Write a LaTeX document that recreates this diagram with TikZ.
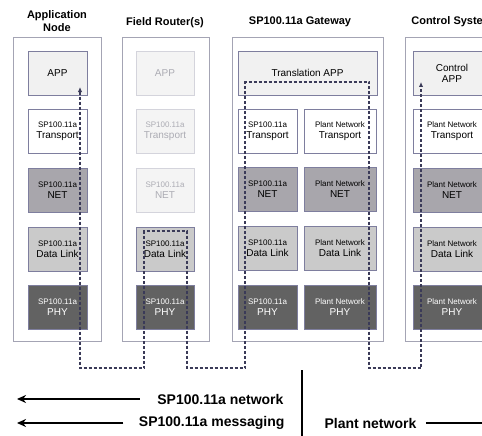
\documentclass[tikz,border=0pt]{standalone}
\usepackage{fontspec}
\setmainfont{Liberation Sans}
\usetikzlibrary{arrows.meta,positioning}
\definecolor{framegray}{HTML}{A4A4B4}
\definecolor{edgeblue}{HTML}{7E7E9E}
\definecolor{appgray}{HTML}{F1F1F1}
\definecolor{netgray}{HTML}{A8A6AC}
\definecolor{linkgray}{HTML}{CACACA}
\definecolor{phygray}{HTML}{626262}
\definecolor{fadegray}{HTML}{F4F4F4}
\definecolor{fadeedge}{HTML}{D4D4DC}
\definecolor{fadetext}{HTML}{ACACB4}
\definecolor{routeblue}{HTML}{3A3A58}
\newcommand{\two}[2]{{\fontsize{8}{10}\selectfont #1}\\{\fontsize{10}{11}\selectfont #2}}

\begin{document}
\begin{tikzpicture}[x=1pt, y=-1pt, node distance=14pt, font=\fontsize{10}{11}\selectfont,
  ttl/.style={font=\fontsize{11}{13}\selectfont\bfseries, align=center},
  frame/.style={draw=framegray, line width=0.8pt},
  lay/.style={draw=edgeblue, line width=0.6pt, align=center, minimum height=44pt, inner sep=1pt},
  appl/.style={lay, fill=appgray},
  trl/.style={lay, fill=white},
  netl/.style={lay, fill=netgray},
  dll/.style={lay, fill=linkgray},
  phyl/.style={lay, fill=phygray, text=white},
  fade/.style={lay, fill=fadegray, draw=fadeedge, text=fadetext},
  route/.style={routeblue, line width=1.1pt, dash pattern=on 3pt off 2pt, {Latex[length=5pt,width=4.5pt]}-{Latex[length=5pt,width=4.5pt]}},
  big/.style={line width=1.7pt, -{Stealth[length=9pt,width=8pt]}},
  leg/.style={font=\fontsize{14}{16}\selectfont\bfseries}]
\useasboundingbox (0,0) rectangle (482,436);
\clip (0,0) rectangle (482,436);

% column frames
\draw[frame] (13,37) rectangle (101,341);
\draw[frame] (122,37) rectangle (209,341);
\draw[frame] (232,37) rectangle (383,341);
\draw[frame] (405,37) rectangle (499,341);

% titles
\node[ttl] (t1) at (57,21) {Application\\Node};
\node[ttl] (t2) at (165,23) {Field Router(s)};
\node[ttl] (t3) at (300,22) {SP100.11a Gateway};
\node[ttl] (t4) at (452,22) {Control System};

% application node
\node[appl, minimum width=59pt] (aapp) at (57.5,73) {APP};
\node[trl, minimum width=59pt, below=of aapp] (atr) {\two{SP100.11a}{Transport}};
\node[netl, minimum width=59pt, below=of atr] (anet) {\two{SP100.11a}{NET}};
\node[dll, minimum width=59pt, below=of anet] (adl) {\two{SP100.11a}{Data Link}};
\node[phyl, minimum width=59pt, below=of adl] (aphy) {\two{SP100.11a}{PHY}};

% field router
\node[fade, minimum width=58pt] (rapp) at (165,73) {APP};
\node[fade, minimum width=58pt, below=of rapp] (rtr) {\two{SP100.11a}{Transport}};
\node[fade, minimum width=58pt, below=of rtr] (rnet) {\two{SP100.11a}{NET}};
\node[dll, minimum width=58pt, below=of rnet] (rdl) {\two{SP100.11a}{Data Link}};
\node[phyl, minimum width=58pt, below=of rdl] (rphy) {\two{SP100.11a}{PHY}};

% gateway
\node[appl, minimum width=139pt] (gapp) at (307.5,73) {Translation APP};
\node[trl, minimum width=59pt] (gtr) at (267.5,131) {\two{SP100.11a}{Transport}};
\node[netl, minimum width=59pt, below=of gtr] (gnet) {\two{SP100.11a}{NET}};
\node[dll, minimum width=59pt, below=of gnet] (gdl) {\two{SP100.11a}{Data Link}};
\node[phyl, minimum width=59pt, below=of gdl] (gphy) {\two{SP100.11a}{PHY}};
\node[trl, minimum width=72pt] (ptr) at (340,131) {\two{Plant Network}{Transport}};
\node[netl, minimum width=72pt, below=of ptr] (pnet) {\two{Plant Network}{NET}};
\node[dll, minimum width=72pt, below=of pnet] (pdl) {\two{Plant Network}{Data Link}};
\node[phyl, minimum width=72pt, below=of pdl] (pphy) {\two{Plant Network}{PHY}};

% control system
\node[appl, minimum width=78pt] (capp) at (452,73) {Control\\APP};
\node[trl, minimum width=78pt, below=of capp] (ctr) {\two{Plant Network}{Transport}};
\node[netl, minimum width=78pt, below=of ctr] (cnet) {\two{Plant Network}{NET}};
\node[dll, minimum width=78pt, below=of cnet] (cdl) {\two{Plant Network}{Data Link}};
\node[phyl, minimum width=78pt, below=of cdl] (cphy) {\two{Plant Network}{PHY}};

% message route
\coordinate (src) at (80,87);
\coordinate (dst) at (421,82);
\draw[route] (src) -- (80,368) -| (144,231) -| (187,368) -| (245,82) -| (369,368) -| (dst);

% legend
\node[leg, anchor=east] (lnet) at (287,399) {SP100.11a network};
\node[leg, anchor=east] (lmsg) at (288,423) {SP100.11a messaging};
\node[leg, anchor=west] (lplant) at (321,423) {Plant network};
\coordinate (netend) at (17,399);
\coordinate (msgend) at (17,423);
\coordinate (plantend) at (510,423);
\draw[big] ([xshift=-14pt]lnet.west) -- (netend);
\draw[big] ([xshift=-12pt]lmsg.west) -- (msgend);
\draw[big] ([xshift=6pt]lplant.east) -- (plantend);
\draw[line width=1.8pt] (302,370) -- (302,436);
\end{tikzpicture}
\end{document}
